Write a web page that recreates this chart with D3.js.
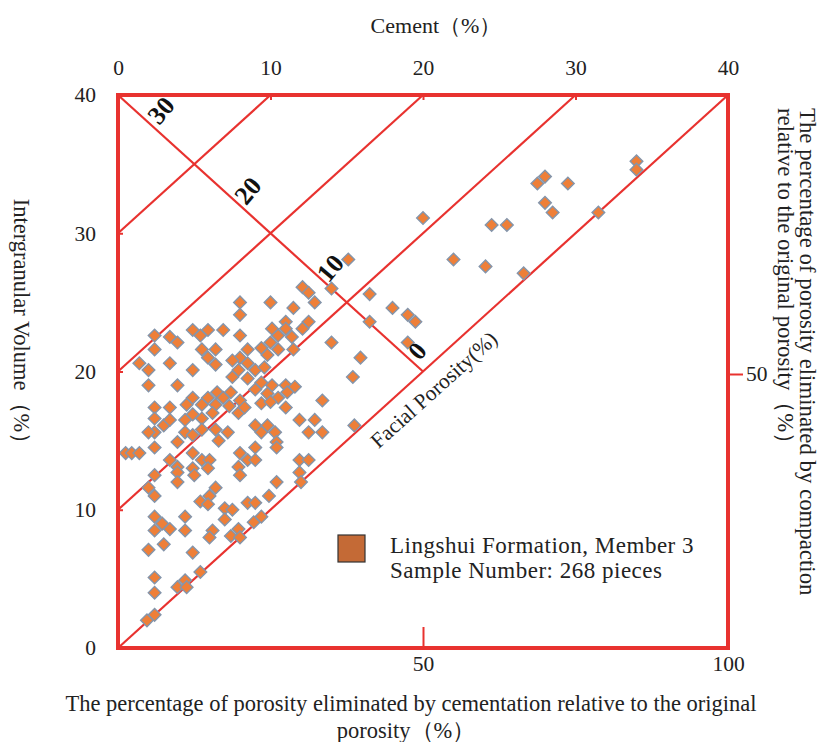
<!DOCTYPE html>
<html>
<head>
<meta charset="utf-8">
<script src="https://cdn.jsdelivr.net/npm/d3@7/dist/d3.min.js"></script>
<style>
  html, body { margin: 0; padding: 0; background: #fff; }
  svg { display: block; }
  text { font-family: "Liberation Serif", "Times New Roman", serif; fill: #222; }
</style>
</head>
<body>
<svg id="chart" width="822" height="742"></svg>
<script>
// ---- data ----
const cement = [2.4,2.4,3.4,3.9,4.9,5.4,5.9,6.9,5.5,6.4,5.9,6.4,1.4,2.0,3.4,4.9,2.0,3.9,2.4,3.4,4.5,4.9,5.5,5.9,6.4,6.5,6.9,7.4,
  12.1,12.5,12.9,14.0,8.0,10.0,11.5,8.0,11.0,12.5,10.1,11.0,12.1,11.4,10.5,8.0,10.0,9.4,10.5,11.5,9.8,14.0,8.5,8.0,7.5,8.5,7.9,9.0,9.6,
  7.5,8.5,9.4,10.1,11.0,9.0,9.8,11.1,11.6,10.5,13.4,8.0,7.3,9.4,
  2.4,3.0,3.4,4.4,4.9,5.5,6.2,2.4,2.0,4.4,3.9,4.9,5.5,6.4,6.6,7.2,2.4,0.5,0.9,1.4,3.4,3.9,4.9,5.5,6.0,4.9,5.9,3.9,2.4,3.9,5.0,
  2.0,2.4,6.4,6.0,5.4,5.9,2.4,2.9,3.4,2.4,4.4,4.4,7.0,7.5,7.0,6.2,6.0,3.0,2.0,7.4,
  11.0,11.9,12.9,12.5,13.4,9.0,9.8,9.4,10.3,10.4,10.4,9.0,8.0,8.5,9.0,7.9,8.0,11.9,12.5,11.9,12.0,10.4,9.9,8.5,9.0,9.4,8.9,7.9,
  7.9,8.3,10.0,4.9,8.0,2.4,2.4,3.9,4.4,4.5,5.4,1.9,2.4,
  15.4,15.5,15.1,16.5,18.0,19.0,19.5,16.5,19.0,15.9,
  34.0,34.0,28.0,27.5,29.5,28.0,28.5,31.5,20.0,24.5,25.5,22.0,24.1,26.6];
const igv = [22.6,21.6,22.5,22.1,23.0,22.6,23.0,23.0,21.6,21.6,21.0,20.5,20.6,20.1,20.6,20.1,19.0,19.0,17.4,17.4,17.6,18.1,17.6,18.1,17.6,18.5,18.1,18.5,
  26.1,25.7,25.0,26.0,25.0,25.0,24.6,24.1,23.6,23.6,23.1,23.1,23.1,22.5,22.6,22.6,22.1,21.7,21.6,21.6,21.2,22.1,21.6,21.0,20.8,20.6,20.1,20.1,20.3,
  19.6,19.5,19.2,19.0,19.0,18.7,18.4,18.5,18.9,18.1,17.9,17.9,17.5,17.7,
  16.6,16.1,16.5,16.5,16.9,16.6,17.0,15.6,15.6,15.6,14.9,15.4,15.8,15.8,15.0,15.6,14.5,14.1,14.1,14.1,13.6,13.1,14.1,13.6,13.6,13.0,13.0,12.7,12.5,12.0,12.5,
  11.6,11.0,11.6,11.0,10.6,10.4,9.5,9.0,8.6,8.5,9.5,8.5,10.1,10.0,9.3,8.5,8.0,7.5,7.1,8.1,
  17.4,16.5,16.5,15.6,15.6,16.1,16.1,15.6,15.6,14.9,14.5,14.5,14.1,13.6,13.6,13.1,12.5,13.6,13.6,12.7,12.0,12.0,11.0,10.5,10.5,9.5,9.1,8.6,
  17.0,17.4,17.8,6.9,8.0,5.1,4.0,4.4,4.9,4.4,5.5,2.0,2.4,
  19.6,16.1,28.1,25.6,24.6,24.1,23.6,23.6,22.1,21.0,
  35.2,34.6,34.1,33.6,33.6,32.2,31.5,31.5,31.1,30.6,30.6,28.1,27.6,27.1];

const cementTicks = [0, 10, 20, 30, 40];
const igvTicks = [0, 10, 20, 30, 40];
const porosityLines = [30, 20, 10, 0];       // intergranular porosity = IGV - cement
const compLabels = ["30", "20", "10", "0"];
const compLabelX = [2.8, 8.5, 13.9, 19.6];
const compLabelY = [38.9, 33.1, 27.5, 21.5];
const cemPctTicks = [50, 100];
const compPctTicks = [50];
const legendLines = ["Lingshui Formation, Member 3", "Sample Number: 268 pieces"];

// ---- layout ----
const L = 118, T = 95, R = 728, B = 648;
const RED = "#e8322f";
const svg = d3.select("#chart");

const x = d3.scaleLinear().domain([0, 40]).range([L, R]);
const y = d3.scaleLinear().domain([0, 40]).range([B, T]);
const xPct = d3.scaleLinear().domain([0, 100]).range([L, R]);
const yPct = d3.scaleLinear().domain([0, 100]).range([B, T]);

// diagonal lines (constant intergranular porosity)
svg.append("g").selectAll("line").data(porosityLines).join("line")
  .attr("x1", d => x(0)).attr("y1", d => y(d))
  .attr("x2", d => x(40 - d)).attr("y2", d => y(40))
  .attr("stroke", RED).attr("stroke-width", 2.2);

// compaction line (anti-diagonal)
svg.append("line")
  .attr("x1", x(0)).attr("y1", y(40)).attr("x2", x(20)).attr("y2", y(20))
  .attr("stroke", RED).attr("stroke-width", 2.2);

// points
const pts = cement.map((c, i) => ({ c, v: igv[i] }));
const diamond = d3.symbol().type(d3.symbolSquare).size(80);
svg.append("g").selectAll("path").data(pts).join("path")
  .attr("d", diamond)
  .attr("transform", d => `translate(${x(d.c)},${y(d.v)}) rotate(45)`)
  .attr("fill", "#ee7f38").attr("stroke", "#8495ab").attr("stroke-width", 1.4);

// frame
svg.append("rect").attr("x", L).attr("y", T).attr("width", R - L).attr("height", B - T)
  .attr("fill", "none").attr("stroke", RED).attr("stroke-width", 4);

// axes
function styleAxis(g) {
  g.select(".domain").remove();
  g.selectAll(".tick line").attr("stroke", RED).attr("stroke-width", 2);
  g.selectAll(".tick text").attr("font-family", "Liberation Serif").attr("font-size", 21.5).attr("fill", "#222");
}
svg.append("g").attr("transform", `translate(0,${T})`)
  .call(d3.axisTop(x).tickValues(cementTicks).tickFormat(d3.format("d")).tickSize(-5).tickPadding(20))
  .call(styleAxis);
svg.append("g").attr("transform", `translate(${L},0)`)
  .call(d3.axisLeft(y).tickValues(igvTicks).tickFormat(d3.format("d")).tickSize(-5).tickPadding(22))
  .call(styleAxis);
const bAx = svg.append("g").attr("transform", `translate(0,${B})`)
  .call(d3.axisBottom(xPct).tickValues(cemPctTicks).tickFormat(d3.format("d")).tickSize(-21).tickPadding(8))
  .call(styleAxis);
bAx.selectAll(".tick").filter(d => d === 100).select("line").remove();
const rAx = svg.append("g").attr("transform", `translate(${R},0)`)
  .call(d3.axisRight(yPct).tickValues(compPctTicks).tickFormat(d3.format("d")).tickSize(15).tickPadding(3))
  .call(styleAxis);
rAx.selectAll(".tick").attr("transform", d => `translate(0,${yPct(d) + 3})`);

// compaction labels
svg.append("g").selectAll("text").data(compLabels).join("text")
  .attr("transform", (d, i) => `translate(${x(compLabelX[i])},${y(compLabelY[i])}) rotate(-50)`)
  .attr("text-anchor", "middle").attr("dy", "0.35em")
  .attr("font-size", 26).attr("font-weight", "bold").style("fill", "#111")
  .text(d => d);

// facial porosity label
svg.append("text")
  .attr("transform", `translate(${x(20.7)},${y(18.7)}) rotate(-42)`)
  .attr("text-anchor", "middle").attr("dy", "0.35em").attr("font-size", 21.5)
  .text("Facial Porosity(%)");

// axis titles
svg.append("text").attr("x", 436).attr("y", 33).attr("text-anchor", "middle")
  .attr("font-size", 22).text("Cement（%）");
svg.append("text").attr("transform", "translate(22,327) rotate(90)")
  .attr("text-anchor", "middle").attr("dy", "0.35em").attr("font-size", 22.5)
  .text("Intergranular Volume（%）");
svg.append("text").attr("transform", "translate(808,108) rotate(90)")
  .attr("text-anchor", "start").attr("dy", "0.35em").attr("font-size", 22.8)
  .text("The percentage of porosity eliminated by compaction");
svg.append("text").attr("transform", "translate(786,108) rotate(90)")
  .attr("text-anchor", "start").attr("dy", "0.35em").attr("font-size", 22.8)
  .text("relative to the original porosity（%）");
svg.append("text").attr("x", 411).attr("y", 711).attr("text-anchor", "middle").attr("font-size", 22.5)
  .text("The percentage of porosity eliminated by cementation relative to the original");
svg.append("text").attr("x", 406).attr("y", 738).attr("text-anchor", "middle").attr("font-size", 22.5)
  .text("porosity（%）");

// legend
svg.append("rect").attr("x", 338).attr("y", 535).attr("width", 27).attr("height", 27)
  .attr("fill", "#c46a36").attr("stroke", "#333").attr("stroke-width", 1.2);
svg.append("g").selectAll("text").data(legendLines).join("text")
  .attr("x", 390).attr("y", (d, i) => 553 + i * 25)
  .attr("font-size", 23).attr("letter-spacing", 0.5)
  .text(d => d);
</script>
</body>
</html>
